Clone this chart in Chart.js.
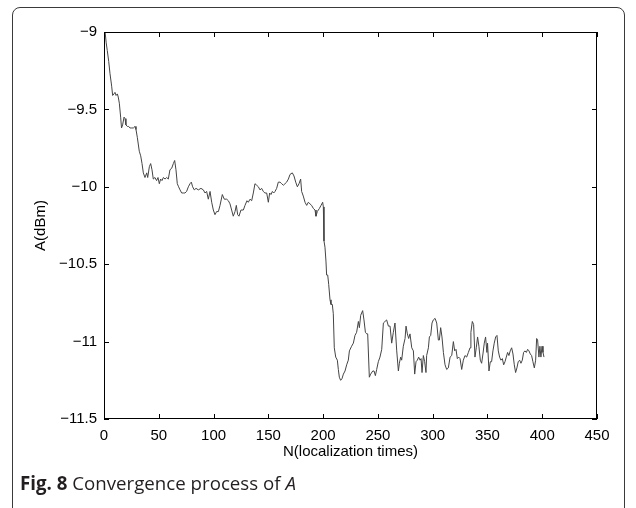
<!DOCTYPE html>
<html>
<head>
<meta charset="utf-8">
<script src="https://cdn.jsdelivr.net/npm/chart.js@4"></script>
<style>
  html, body { margin:0; padding:0; background:#fff; }
  #wrap { position:relative; width:636px; height:508px; overflow:hidden; }
  #card { position:absolute; left:12px; top:7px; width:611px; height:540px; border:1px solid #3a3a3a; border-radius:8px; }
  #cv { position:absolute; left:0; top:0; }
  #caption { position:absolute; left:20px; top:470px; font-family:"Open Sans", sans-serif; font-size:18.7px; color:#231f20; }
</style>
</head>
<body>
<div id="wrap">
  <div id="card"></div>
  <canvas id="cv" width="636" height="508"></canvas>
  <div id="caption"><b>Fig. 8</b> Convergence process of <i>A</i></div>
</div>
<script>
// values (N, A in dBm)
const nTimes = [1,2,3,4.3,5.5,7,7.9,9.1,10,11,12.2,13,14,15.2,16,17,18.3,19.2,20,21.3,22.5,23.7,25.3,26.8,28.3,29.2,30.4,32.2,33.5,34.7,35.9,37.4,39,39.9,41.4,42.6,43.8,45,46.5,48,49.3,50.5,51.7,52.9,54.2,55.7,57.2,58.7,60.2,61.8,63.3,64.5,65.7,66.9,68.1,69.4,70.9,72.4,73.9,75.4,77,78.5,79.7,80.9,82.4,84,
  86.1,88.5,90.7,92.2,93.7,95.2,96.8,98.3,99.8,101.3,102.8,104.4,105.9,108,109.8,112,113.5,115,116.5,118,119.6,120.8,122,123.2,125,127.2,128.7,130.5,131.7,133.3,134.8,136.3,137.8,139.4,140.9,142.4,143.9,145.4,146.9,148.5,150,151.2,152.4,153.7,154.9,156.1,157.6,159.1,160.7,162.2,163.7,165.2,166.7,168.3,169.8,171.9,173.4,175,176.5,178,
  179.5,180.4,181.9,183.5,185,186.5,188,189.5,191.1,192.6,193.5,194.7,196.6,198.1,199.6,200.2,200.8,201.7,202.6,203.2,204.2,205.1,206.3,207.2,208.4,209.3,210.2,211.5,213,213.9,214.8,216,217.2,218.5,220,
  221.5,223,224,226,227.6,229.1,230.6,232.2,233.1,234.3,236.1,237.3,238.6,239.8,240.7,242.2,243.4,245.3,246.5,247.7,248.9,250.4,251.9,253.5,255,256.5,258,259.6,261.1,262.6,264.1,265.6,267.2,268.7,269.6,270.8,271.7,273.2,274.8,275.7,276.9,278.1,279.3,280.9,282.4,283.6,284.8,286,287.2,288.5,289.4,290.3,291.5,292.7,293.9,294.5,296.1,297,298.2,299.4,300.6,302.2,303.7,305.2,306.1,307.3,308.5,309.8,311.3,312.8,314.3,315.9,317.4,318.9,320.1,321.3,322.5,323.7,325,326.5,328,329.5,331,332.6,334.1,
  334.9,336.2,337.4,338.6,339.8,341,342.2,343.5,344.7,345.9,347.1,348.3,349.5,350.1,351.4,352.6,353.8,355,356.2,357.5,358.7,359.9,361.1,362.3,363.6,364.8,366,367.2,368.4,369.6,370.8,372.1,373.3,374.5,375.7,376.9,378.1,379.4,380.6,381.8,383,384.2,385.5,386.7,387.9,389.1,390.3,391.5,392.8,394,394.9,395.8,397,397.9,398.8,399.8,400.7,401.6];
const aDbm = [-9.00,-9.07,-9.12,-9.19,-9.27,-9.35,-9.41,-9.40,-9.39,-9.41,-9.40,-9.42,-9.46,-9.55,-9.62,-9.60,-9.55,-9.56,-9.60,-9.61,-9.61,-9.62,-9.62,-9.62,-9.61,-9.63,-9.68,-9.77,-9.80,-9.85,-9.91,-9.94,-9.91,-9.94,-9.87,-9.85,-9.89,-9.95,-9.94,-9.96,-9.94,-9.98,-9.95,-9.96,-9.94,-9.95,-9.94,-9.95,-9.89,-9.88,-9.85,-9.83,-9.89,-9.98,-10.00,-10.02,-10.04,-10.04,-10.04,-10.03,-10.00,-9.98,-9.97,-10.00,-10.02,-10.01,
  -10.02,-10.01,-10.02,-10.04,-10.03,-10.08,-10.03,-10.10,-10.15,-10.18,-10.16,-10.16,-10.12,-10.05,-10.08,-10.08,-10.09,-10.11,-10.15,-10.19,-10.16,-10.12,-10.18,-10.19,-10.15,-10.15,-10.12,-10.09,-10.10,-10.08,-10.09,-10.04,-9.98,-9.99,-10.00,-10.02,-10.01,-10.03,-10.04,-10.04,-10.10,-10.04,-10.05,-10.03,-10.04,-10.03,-10.01,-9.97,-9.97,-9.98,-9.99,-9.98,-9.97,-9.95,-9.92,-9.91,-9.93,-9.97,-10.00,-9.98,
  -9.95,-10.03,-10.06,-10.10,-10.12,-10.10,-10.11,-10.12,-10.14,-10.15,-10.19,-10.16,-10.14,-10.12,-10.10,-10.13,-10.35,-10.39,-10.48,-10.57,-10.57,-10.63,-10.73,-10.76,-10.76,-10.82,-11.04,-11.10,-11.12,-11.18,-11.23,-11.25,-11.24,-11.21,-11.19,
  -11.15,-11.12,-11.06,-11.03,-11.01,-10.96,-10.94,-10.87,-10.91,-10.83,-10.80,-10.86,-10.94,-10.95,-10.95,-11.23,-11.21,-11.19,-11.19,-11.22,-11.18,-11.13,-11.10,-11.05,-10.88,-10.87,-10.86,-10.90,-10.90,-11.01,-10.94,-10.88,-11.06,-11.19,-11.14,-11.10,-11.12,-11.03,-10.98,-10.90,-10.95,-10.98,-10.95,-11.04,-11.06,-11.21,-11.13,-11.12,-11.10,-11.12,-11.11,-11.20,-11.09,-11.13,-11.20,-11.09,-11.04,-10.97,-10.96,-10.88,-10.86,-10.85,-10.88,-10.99,-10.99,-10.91,-10.97,-11.07,-11.15,-11.18,-11.17,-11.10,-11.09,-11.00,-11.06,-11.05,-11.11,-11.10,-11.11,-11.18,-11.12,-11.09,-11.10,-11.07,-11.04,
  -10.94,-10.87,-10.89,-11.10,-11.04,-10.97,-11.03,-11.12,-11.14,-11.08,-11.01,-10.97,-11.07,-11.01,-11.19,-11.13,-11.13,-11.06,-11.01,-10.97,-10.96,-11.06,-11.10,-11.12,-11.11,-11.15,-11.13,-11.10,-11.07,-11.09,-11.06,-11.04,-11.08,-11.15,-11.20,-11.17,-11.13,-11.12,-11.14,-11.12,-11.07,-11.06,-11.07,-11.05,-11.06,-11.08,-11.09,-11.13,-11.17,-11.12,-10.98,-10.99,-11.10,-11.03,-11.10,-11.03,-11.07,-11.10];
const xTicks = [0,50,100,150,200,250,300,350,400,450];
const yTicks = [-11.5,-11,-10.5,-10,-9.5,-9];

const minus = v => (v < 0 ? '\u2212' + Math.abs(v) : String(v));
const axisFont = { family: 'Liberation Sans', size: 15 };

// MATLAB-style box with inward tick marks on all four sides
const boxTicks = {
  id: 'boxTicks',
  afterDatasetsDraw(chart) {
    const { ctx, chartArea: a, scales: { x, y } } = chart;
    ctx.save();
    ctx.strokeStyle = '#000';
    ctx.lineWidth = 1;
    ctx.strokeRect(a.left + 0.5, a.top + 0.5, a.width - 1, a.height - 1);
    ctx.beginPath();
    x.ticks.forEach(t => {
      const px = Math.round(x.getPixelForValue(t.value)) + 0.5;
      ctx.moveTo(px, a.bottom); ctx.lineTo(px, a.bottom - 5);
      ctx.moveTo(px, a.top); ctx.lineTo(px, a.top + 5);
    });
    y.ticks.forEach(t => {
      const py = Math.round(y.getPixelForValue(t.value)) + 0.5;
      ctx.moveTo(a.left, py); ctx.lineTo(a.left + 5, py);
      ctx.moveTo(a.right, py); ctx.lineTo(a.right - 5, py);
    });
    ctx.stroke();
    ctx.restore();
  }
};

new Chart(document.getElementById('cv'), {
  type: 'line',
  data: {
    datasets: [{
      data: nTimes.map((n, i) => ({ x: n, y: aDbm[i] })),
      borderColor: '#444',
      borderWidth: 1,
      pointRadius: 0,
      tension: 0,
      fill: false
    }]
  },
  options: {
    responsive: false,
    animation: false,
    devicePixelRatio: 1,
    layout: { padding: { left: 0, top: 32, right: 39, bottom: 39 } },
    plugins: { legend: { display: false }, tooltip: { enabled: false } },
    scales: {
      x: {
        type: 'linear', min: 0, max: 450,
        afterBuildTicks: s => { s.ticks = xTicks.map(v => ({ value: v })); },
        afterFit: s => { s.height = 50; },
        grid: { display: false, drawTicks: false },
        border: { display: false },
        ticks: { padding: 8, color: '#000', font: axisFont, maxRotation: 0 },
        title: { display: true, text: 'N(localization times)', color: '#000', font: axisFont, padding: { top: 0, bottom: 8 } }
      },
      y: {
        type: 'linear', min: -11.5, max: -9,
        afterBuildTicks: s => { s.ticks = yTicks.map(v => ({ value: v })); },
        afterFit: s => { s.width = 104; },
        grid: { display: false, drawTicks: false },
        border: { display: false },
        ticks: { padding: 7, color: '#000', font: axisFont, callback: v => minus(v) },
        title: { display: true, text: 'A(dBm)', color: '#000', font: axisFont, padding: { top: 32, bottom: 0 } }
      }
    }
  },
  plugins: [boxTicks]
});
</script>
</body>
</html>
